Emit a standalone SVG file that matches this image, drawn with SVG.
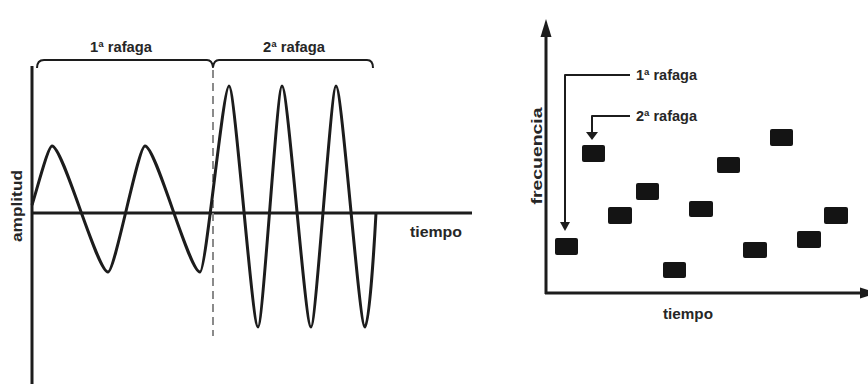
<svg xmlns="http://www.w3.org/2000/svg" width="868" height="384" viewBox="0 0 868 384">
<style>
  .ln { fill: none; stroke: #1c1c1c; stroke-linecap: butt; stroke-linejoin: round; }
  .ax { stroke-width: 3; }
  .wv { stroke-width: 3; }
  .th { stroke-width: 2; }
  .ah { fill: #1c1c1c; }
  .blk { fill: #141414; }
  .lbl { font-family: "Liberation Sans Narrow", "Liberation Sans", Arial, sans-serif; font-weight: bold; fill: #262626; }
</style>
<rect width="868" height="384" fill="#ffffff"/>

<g id="amplitude-chart">
  <g id="left-axes">
    <line class="ln ax" x1="32" y1="66" x2="32" y2="384"/>
    <line class="ln ax" x1="31" y1="213" x2="472" y2="213"/>
  </g>
  <g id="burst-divider">
    <line x1="213" y1="70" x2="213" y2="336" stroke="#8a8a8a" stroke-width="2" stroke-dasharray="8 5"/>
  </g>
  <g id="burst-brace">
    <path class="ln th" d="M37,68 Q37,60 44,60 L207,60 Q212,60 213,67 Q214,60 219,60 L367,60 Q373,60 373,68"/>
  </g>
  <g id="waveform">
    <path class="ln wv" d="M32,205 C36,193 48,146 52,146 C63,146 97,272 108,272 C115,272 138,146 145,146 C156,146 189,272 200,272 C206,272 223,86 229,86 C235,86 252,327 258,327 C263,327 277,86 282,86 C288,86 305,327 311,327 C316,327 331,86 336,86 C342,86 359,327 365,327 C369,327 374,250 376,213"/>
  </g>
  <g id="left-labels">
    <text class="lbl" x="90" y="52" font-size="14" textLength="62" lengthAdjust="spacingAndGlyphs">1ª rafaga</text>
    <text class="lbl" x="263" y="52" font-size="14" textLength="62" lengthAdjust="spacingAndGlyphs">2ª rafaga</text>
    <text class="lbl" x="410" y="237" font-size="15" textLength="52" lengthAdjust="spacingAndGlyphs">tiempo</text>
    <text class="lbl" transform="translate(22,206) rotate(-90)" text-anchor="middle" font-size="14" textLength="72" lengthAdjust="spacingAndGlyphs">amplitud</text>
  </g>
</g>

<g id="frequency-chart">
  <g id="right-axes">
    <line class="ln ax" x1="546" y1="294" x2="546" y2="34"/>
    <polygon class="ah" points="546,19 540.5,37 551.5,37"/>
    <line class="ln ax" x1="545" y1="293" x2="862" y2="293"/>
    <polygon class="ah" points="878,293 860,287.5 860,298.5"/>
  </g>
  <g id="hops">
    <rect id="hop1" class="blk" x="555" y="238" width="23" height="17" rx="2"/>
    <rect id="hop2" class="blk" x="582" y="145" width="23" height="17" rx="2"/>
    <rect id="hop3" class="blk" x="608" y="207" width="24" height="17" rx="2"/>
    <rect id="hop4" class="blk" x="636" y="183" width="23" height="17" rx="2"/>
    <rect id="hop5" class="blk" x="663" y="262" width="23" height="16" rx="2"/>
    <rect id="hop6" class="blk" x="689" y="201" width="24" height="16" rx="2"/>
    <rect id="hop7" class="blk" x="717" y="157" width="23" height="16" rx="2"/>
    <rect id="hop8" class="blk" x="743" y="242" width="24" height="16" rx="2"/>
    <rect id="hop9" class="blk" x="770" y="129" width="23" height="17" rx="2"/>
    <rect id="hop10" class="blk" x="797" y="231" width="24" height="17" rx="2"/>
    <rect id="hop11" class="blk" x="824" y="207" width="24" height="17" rx="2"/>
  </g>
  <g id="connectors">
    <polyline class="ln th" points="630,75 565,75 565,223"/>
    <polygon class="ah" points="565,231 560,222 570,222"/>
    <polyline class="ln th" points="630,116 592,116 592,133"/>
    <polygon class="ah" points="592,140 586,132 598,132"/>
  </g>
  <g id="right-labels">
    <text class="lbl" x="636" y="80" font-size="14" textLength="61" lengthAdjust="spacingAndGlyphs">1ª rafaga</text>
    <text class="lbl" x="636" y="121" font-size="14" textLength="61" lengthAdjust="spacingAndGlyphs">2ª rafaga</text>
    <text class="lbl" x="663" y="319" font-size="15" textLength="50" lengthAdjust="spacingAndGlyphs">tiempo</text>
    <text class="lbl" transform="translate(542,156) rotate(-90)" text-anchor="middle" font-size="15" textLength="97" lengthAdjust="spacingAndGlyphs">frecuencia</text>
  </g>
</g>
</svg>
